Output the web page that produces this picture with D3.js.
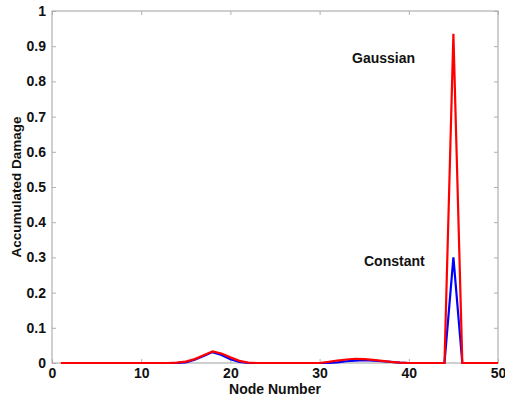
<!DOCTYPE html>
<html>
<head>
<meta charset="utf-8">
<script src="https://cdn.jsdelivr.net/npm/d3@7"></script>
<style>
  body { margin: 0; background: #fff; }
  text { font-family: "Liberation Sans", Arial, sans-serif; font-weight: bold; }
</style>
</head>
<body>
<div id="chart"></div>
<script>
// node numbers 1..50
var nodes = [1,2,3,4,5,6,7,8,9,10,11,12,13,14,15,16,17,18,19,20,21,22,23,24,25,
             26,27,28,29,30,31,32,33,34,35,36,37,38,39,40,41,42,43,44,45,46,47,48,49,50]
var gaussian = [0,0,0,0,0,0,0,0,0,0,0,0,0,0.001,0.004,0.011,0.022,0.033,0.027,0.016,0.006,0.001,0,0,0,
                0,0,0,0,0,0.003,0.007,0.010,0.012,0.011,0.009,0.006,0.003,0.001,0,0,0,0,0,0.935,0,0,0,0,0]
var constant = [0,0,0,0,0,0,0,0,0,0,0,0,0,0,0.002,0.009,0.020,0.031,0.023,0.011,0.003,0,0,0,0,
                0,0,0,0,0,0,0.002,0.005,0.007,0.008,0.007,0.005,0.003,0.001,0,0,0,0,0,0.30,0,0,0,0,0]
var xTicks = [0,10,20,30,40,50]
var yTicks = [0,0.1,0.2,0.3,0.4,0.5,0.6,0.7,0.8,0.9,1]

var width = 505, height = 397,
    margin = { top: 11, right: 7, bottom: 34, left: 52 }
var w = width - margin.left - margin.right,
    h = height - margin.top - margin.bottom

var svg = d3.select('#chart').append('svg')
    .attr('width', width).attr('height', height)
  .append('g')
    .attr('transform', `translate(${margin.left},${margin.top})`)

var x = d3.scaleLinear().domain([0, 50]).range([0, w])
var y = d3.scaleLinear().domain([0, 1]).range([h, 0])

// box
svg.append('rect').attr('width', w).attr('height', h)
    .attr('fill', 'none').attr('stroke', '#b0b0b0').attr('stroke-width', 1.2)

// axes (ticks inward, mirrored on top/right)
var xAxis = d3.axisBottom(x).tickValues(xTicks).tickSize(-4).tickPadding(5).tickSizeOuter(0)
var yAxis = d3.axisLeft(y).tickValues(yTicks).tickSize(-4).tickPadding(6).tickSizeOuter(0)
    .tickFormat(d => d3.format('')(+d.toFixed(1)))

var gx = svg.append('g').attr('transform', `translate(0,${h})`).call(xAxis)
var gy = svg.append('g').call(yAxis)
svg.append('g').call(d3.axisTop(x).tickValues(xTicks).tickSize(-4).tickFormat('').tickSizeOuter(0))
svg.append('g').attr('transform', `translate(${w},0)`)
    .call(d3.axisRight(y).tickValues(yTicks).tickSize(-4).tickFormat('').tickSizeOuter(0))

svg.selectAll('.domain').remove()
svg.selectAll('.tick line').attr('stroke', '#b0b0b0')
svg.selectAll('.tick text').attr('fill', '#111').style('font-size', '14px')
    .style('font-family', '"Liberation Sans", Arial, sans-serif').style('font-weight', 'bold')

var line = d3.line().x((d, i) => x(nodes[i])).y(d => y(d))

svg.append('path').datum(constant).attr('d', line)
    .attr('fill', 'none').attr('stroke', '#0000ff').attr('stroke-width', 2.2)
svg.append('path').datum(gaussian).attr('d', line)
    .attr('fill', 'none').attr('stroke', '#ff0000').attr('stroke-width', 2.2)

// labels
svg.append('text').attr('x', x(25)).attr('y', h + 31)
    .attr('text-anchor', 'middle').style('font-size', '14px').attr('fill', '#111').text('Node Number')
svg.append('text').attr('transform', `translate(${-31},${h / 2}) rotate(-90)`)
    .attr('text-anchor', 'middle').style('font-size', '13.5px').attr('fill', '#111').text('Accumulated Damage')

svg.append('text').attr('x', 300).attr('y', 52).style('font-size', '14px').attr('fill', '#111').text('Gaussian')
svg.append('text').attr('x', 312).attr('y', 255).style('font-size', '14px').attr('fill', '#111').text('Constant')
</script>
</body>
</html>
